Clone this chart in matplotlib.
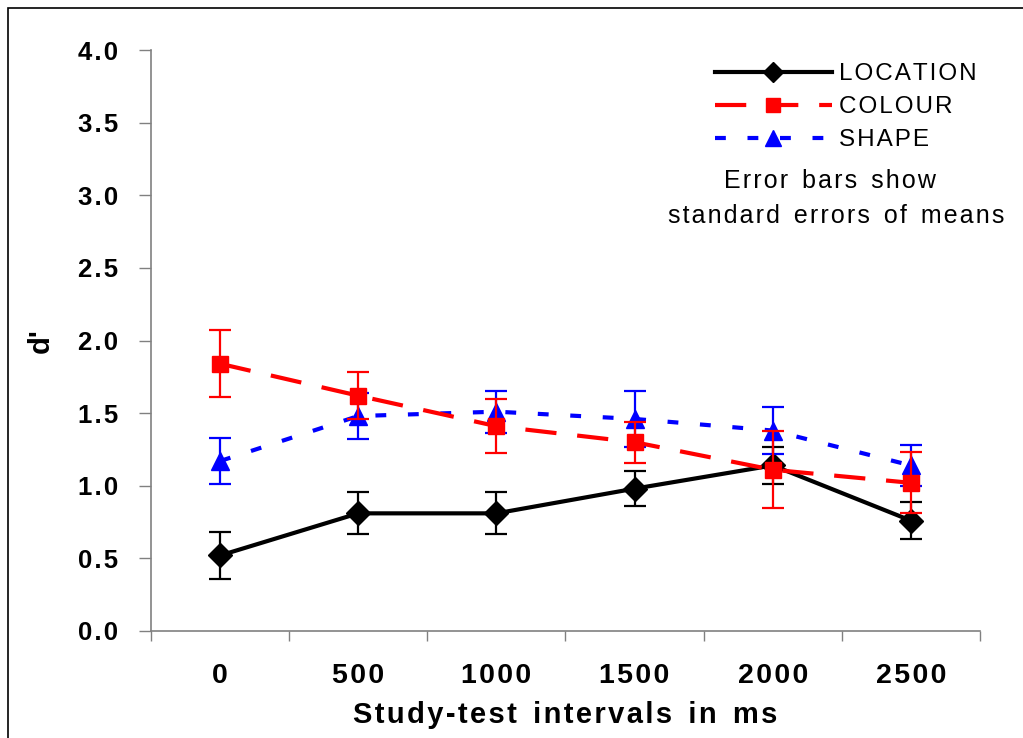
import matplotlib
matplotlib.use("Agg")
import matplotlib.pyplot as plt
from matplotlib.lines import Line2D
from matplotlib.patches import Rectangle

plt.rcParams['font.family'] = ['Liberation Sans', 'DejaVu Sans']

# data
intervals = ["0", "500", "1000", "1500", "2000", "2500"]
location = [0.52, 0.81, 0.81, 0.98, 1.14, 0.76]
location_se = [0.165, 0.145, 0.145, 0.12, 0.125, 0.13]
colour = [1.84, 1.62, 1.41, 1.30, 1.11, 1.02]
colour_se = [0.23, 0.16, 0.186, 0.14, 0.265, 0.21]
shape = [1.17, 1.48, 1.51, 1.46, 1.38, 1.14]
shape_se = [0.16, 0.16, 0.145, 0.19, 0.16, 0.14]


def spaced(s, gap="\u200a"):
    # wide letter spacing like the original export, words kept apart
    return "  ".join(gap.join(w) for w in s.split(" "))


W, H = 1023, 738
fig = plt.figure(figsize=(W / 100, H / 100), dpi=100)
ax = fig.add_axes([151 / W, (H - 631) / H, (980 - 151) / W, (631 - 50) / H])

x = list(range(len(intervals)))

styles = {
    "LOCATION": dict(color="black", ls="solid", marker="D", ms=12),
    "COLOUR": dict(color="#ff0000", ls=(0, (7.5, 5)), marker="s", ms=12),
    "SHAPE": dict(color="#0000ff", ls=(0, (2.6, 5.2)), marker="^", ms=13),
}

# drawn location -> shape -> colour
for name, vals, err, z in [("LOCATION", location, location_se, 3),
                           ("SHAPE", shape, shape_se, 4),
                           ("COLOUR", colour, colour_se, 5)]:
    st = styles[name]
    c = ax.errorbar(x, vals, yerr=err, color=st["color"], lw=3, ls=st["ls"],
                    marker=st["marker"], ms=st["ms"], capsize=8, elinewidth=1.6,
                    capthick=1.6, zorder=z)
    c[-1][0].set_linestyle("solid")

ax.set_xlim(-0.5, len(intervals) - 0.5)
ax.set_ylim(0, 4.0)
yt = [0, 0.5, 1.0, 1.5, 2.0, 2.5, 3.0, 3.5, 4.0]
ax.set_yticks(yt)
ax.set_yticklabels([spaced(f"{v:.1f}") for v in yt], fontsize=18.5, fontweight="bold")

# ticks on category boundaries, labels on centres
ax.set_xticks([i - 0.5 for i in range(len(intervals) + 1)])
ax.set_xticklabels([])
ax.set_xticks(x, minor=True)
ax.set_xticklabels([spaced(s) for s in intervals], minor=True, fontsize=20.5, fontweight="bold")
ax.tick_params(axis="x", which="minor", length=0, pad=23)
ax.tick_params(axis="x", which="major", direction="out", length=7, color="#808080", width=1)
ax.tick_params(axis="y", direction="out", length=8.6, color="#808080", width=1, pad=15)

for s in ("top", "right"):
    ax.spines[s].set_visible(False)
for s in ("left", "bottom"):
    ax.spines[s].set_color("#808080")
    ax.spines[s].set_linewidth(1.2)

ax.set_xlabel(spaced("Study-test intervals in ms"), fontsize=21, fontweight="bold", labelpad=9)
ax.set_ylabel("d'", fontsize=21, fontweight="bold", labelpad=17)

handles = [Line2D([], [], color=styles[n]["color"], ls=styles[n]["ls"], lw=3,
                  marker=styles[n]["marker"], ms=styles[n]["ms"] - 2)
           for n in ["LOCATION", "COLOUR", "SHAPE"]]
ax.legend(handles, [spaced(n) for n in ["LOCATION", "COLOUR", "SHAPE"]],
          loc="upper left", bbox_to_anchor=((715 - 151) / 829, (631 - 63) / 581),
          frameon=False, fontsize=17.5, handlelength=4.8, labelspacing=0.46,
          handletextpad=0.3, borderpad=0, borderaxespad=0)

ax.text((830 - 151) / 829, (631 - 181) / 581, spaced("Error bars show"),
        transform=ax.transAxes, ha="center", va="center", fontsize=18)
ax.text((836 - 151) / 829, (631 - 216) / 581, spaced("standard errors of means"),
        transform=ax.transAxes, ha="center", va="center", fontsize=18)

fig.add_artist(Rectangle((8 / W, -0.01), 1.0, 1 - 8 / H + 0.01, transform=fig.transFigure,
                         fill=False, edgecolor="black", lw=1.2))

fig.savefig("out.png", dpi=100)
